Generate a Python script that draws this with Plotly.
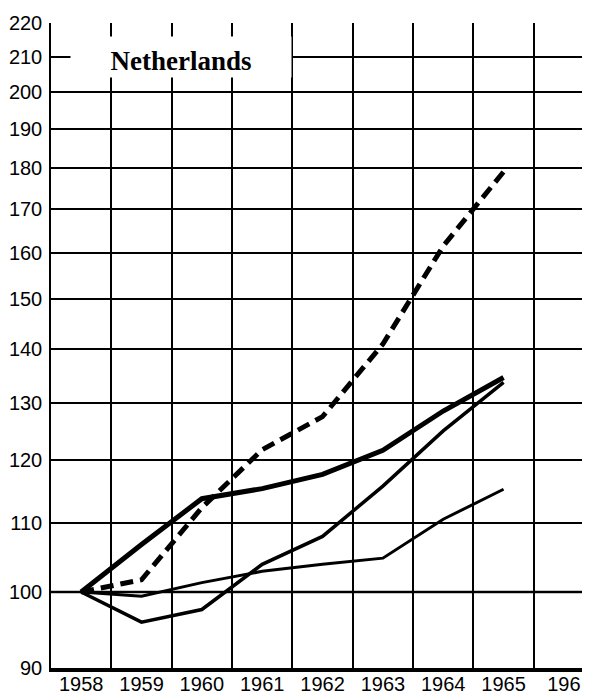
import plotly.graph_objects as go

years = [1958, 1959, 1960, 1961, 1962, 1963, 1964, 1965]

# index 1958 = 100
serie_tracejada = [100, 101.7, 112.4, 121.8, 127.5, 141.0, 161.5, 179.0]
serie_grossa = [100, 106.8, 113.8, 115.4, 117.7, 121.7, 128.5, 134.6]
serie_media = [100, 95.9, 97.6, 103.9, 108.0, 115.8, 125.0, 133.7]
serie_fina = [100, 99.4, 101.3, 102.9, 103.9, 104.8, 110.6, 115.3]

y_ticks = [90, 100, 110, 120, 130, 140, 150, 160, 170, 180, 190, 200, 210, 220]
x_ticks = [1958, 1959, 1960, 1961, 1962, 1963, 1964, 1965, 1966]
x_labels = ["1958", "1959", "1960", "1961", "1962", "1963", "1964", "1965", "196"]

fig = go.Figure()

# linha de base 100
fig.add_hline(y=100, line=dict(color="black", width=3.5))

fig.add_trace(go.Scatter(x=years, y=serie_fina, mode="lines",
                         line=dict(color="black", width=3)))
fig.add_trace(go.Scatter(x=years, y=serie_media, mode="lines",
                         line=dict(color="black", width=3.5)))
fig.add_trace(go.Scatter(x=years, y=serie_grossa, mode="lines",
                         line=dict(color="black", width=5)))
fig.add_trace(go.Scatter(x=years, y=serie_tracejada, mode="lines",
                         line=dict(color="black", width=5, dash="13px,7px")))

fig.add_annotation(
    text="<b>Netherlands</b>", xref="paper", yref="paper",
    x=0.245, y=0.947, xanchor="center", yanchor="middle",
    width=218, height=38, bgcolor="white", showarrow=False, valign="bottom",
    font=dict(family="Liberation Serif, Times New Roman, serif", size=27, color="black")
)

tick_font = dict(family="Liberation Sans Narrow, Liberation Sans, Arial, sans-serif",
                 size=20, color="black")

# a página tem 8px de margem no body, por isso a figura é um pouco menor
fig.update_layout(
    width=585, height=692,
    template="simple_white",
    showlegend=False,
    paper_bgcolor="white",
    plot_bgcolor="white",
    margin=dict(l=43, r=11, t=15, b=32),
    xaxis=dict(
        range=[1957.5, 1966.3],
        automargin=False,
        tickmode="array", tickvals=x_ticks, ticktext=x_labels,
        ticks="", showgrid=False,
        showline=True, linecolor="black", linewidth=4,
        tickfont=tick_font, ticklabelstandoff=-5,
        minor=dict(tick0=1957.5, dtick=1, showgrid=True,
                   gridcolor="black", gridwidth=2, ticks=""),
        zeroline=False
    ),
    yaxis=dict(
        type="log",
        automargin=False,
        range=[1.9542425, 2.3424227],
        tickmode="array", tickvals=y_ticks,
        ticks="", showgrid=True, gridcolor="black", gridwidth=1.5,
        showline=True, linecolor="black", linewidth=1.5,
        tickfont=tick_font, ticklabelstandoff=3,
        zeroline=False
    )
)

fig.write_html("out.html")
